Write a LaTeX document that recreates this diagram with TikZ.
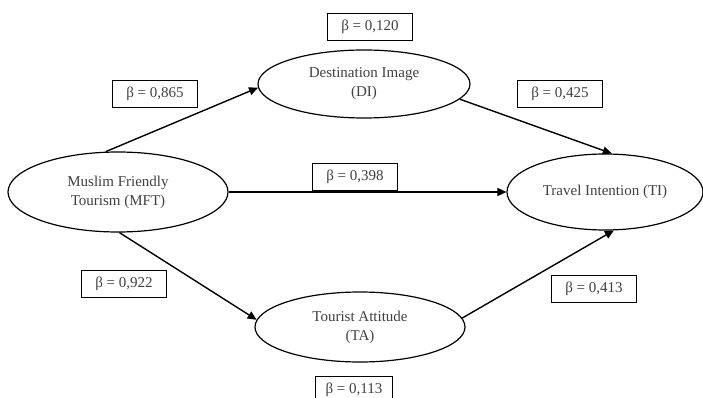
\documentclass[tikz,border=0pt]{standalone}
\usepackage{fontspec}
\setmainfont{Liberation Serif}
\usetikzlibrary{shapes.geometric,arrows.meta}
\begin{document}
\begin{tikzpicture}[x=1pt,y=-1pt,
  construct/.style={ellipse,draw,line width=1.2pt,inner sep=0pt,align=center,font=\fontsize{15}{19}\selectfont,text=black!75},
  coef/.style={draw,line width=0.8pt,minimum width=85pt,minimum height=27pt,inner sep=0pt,font=\fontsize{15}{18}\selectfont,text=black!75},
  path/.style={line width=1.4pt,-{Triangle[length=9pt,width=8pt]}}]
\useasboundingbox (0,0) rectangle (703,398);
\node[construct,minimum width=220pt,minimum height=80pt] (MFT) at (118,192) {Muslim Friendly\\Tourism (MFT)};
\node[construct,minimum width=212pt,minimum height=68pt] (DI) at (364,84) {Destination Image\\(DI)};
\node[construct,minimum width=196pt,minimum height=76pt] (TI) at (605,192) {Travel Intention (TI)};
\node[construct,minimum width=210pt,minimum height=70pt] (TA) at (360,327) {Tourist Attitude\\(TA)};
\node[coef] (b1) at (370,27) {β = 0,120};
\node[coef] (b2) at (155,94) {β = 0,865};
\node[coef] (b3) at (560,94) {β = 0,425};
\node[coef] (b4) at (355,177) {β = 0,398};
\node[coef] (b5) at (124,284) {β = 0,922};
\node[coef] (b6) at (594,289) {β = 0,413};
\node[coef,minimum width=77pt] (b7) at (354,390) {β = 0,113};
\draw[path] (MFT.107) -- (DI.182);
\draw[path] (DI.-9) -- (TI.80);
\draw[path] (MFT.east) -- (TI.west);
\draw[path] (MFT.-88) -- (TA.176);
\draw[path] (TA.5) -- (TI.-77);
\end{tikzpicture}
\end{document}
